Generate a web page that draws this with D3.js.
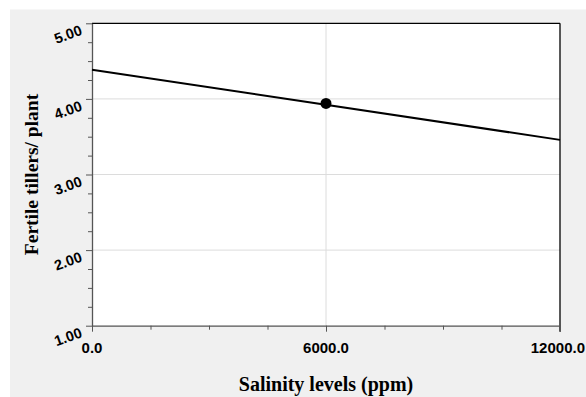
<!DOCTYPE html>
<html><head><meta charset="utf-8">
<script src="https://cdn.jsdelivr.net/npm/d3@7"></script>
<style>html,body{margin:0;padding:0;background:#fff;}svg{display:block;}</style>
</head><body>
<script>
const lineX = [0, 12000];
const lineY = [4.387, 3.458];
const pointX = [6000];
const pointY = [3.94];
const xTicks = [0, 6000, 12000];
const xTickLabels = ["0.0", "6000.0", "12000.0"];
const yTicks = [1, 2, 3, 4, 5];
const yTickLabels = ["1.00", "2.00", "3.00", "4.00", "5.00"];
const xTitle = "Salinity levels (ppm)";
const yTitle = "Fertile tillers/ plant";

const W = 586, H = 397;
const m = {left: 92, right: 560, top: 23.3, bottom: 325.7};
const svg = d3.select("body").append("svg").attr("width", W).attr("height", H);

svg.append("rect").attr("x", 10).attr("y", 9.5).attr("width", W - 10).attr("height", H - 9.5).attr("fill", "#f0f0f0");
svg.append("rect").attr("x", m.left).attr("y", m.top).attr("width", m.right - m.left).attr("height", m.bottom - m.top).attr("fill", "#fff");

const x = d3.scaleLinear().domain([0, 12000]).range([m.left, m.right]);
const y = d3.scaleLinear().domain([1, 5]).range([m.bottom, m.top]);

// grid
svg.append("g").selectAll("line").data(yTicks.filter(d => d > 1 && d < 5)).join("line")
  .attr("x1", m.left).attr("x2", m.right).attr("y1", d => y(d)).attr("y2", d => y(d))
  .attr("stroke", "#dcdcdc").attr("stroke-width", 1);
svg.append("g").selectAll("line").data(xTicks.filter(d => d > 0 && d < 12000)).join("line")
  .attr("y1", m.top).attr("y2", m.bottom).attr("x1", d => x(d)).attr("x2", d => x(d))
  .attr("stroke", "#dcdcdc").attr("stroke-width", 1);

// borders
svg.append("line").attr("x1", m.left).attr("x2", m.right).attr("y1", m.top).attr("y2", m.top).attr("stroke", "#000").attr("stroke-width", 1.3);
svg.append("line").attr("x1", m.right).attr("x2", m.right).attr("y1", m.top).attr("y2", m.bottom + 6).attr("stroke", "#000").attr("stroke-width", 1.3);

// y axis
const yAxis = d3.axisLeft(y).tickValues(d3.range(1, 5.001, 0.25)).tickSize(0).tickFormat("");
const gy = svg.append("g").attr("transform", `translate(${m.left},0)`).call(yAxis);
gy.select(".domain").attr("stroke", "#555").attr("stroke-width", 1.3);
gy.selectAll(".tick line").attr("x2", d => (Math.abs(d - Math.round(d)) < 1e-6 ? -6 : -4)).attr("stroke", "#555").attr("stroke-width", 1);
svg.append("g").selectAll("text").data(yTicks).join("text")
  .attr("transform", d => `translate(${m.left - 9},${y(d) + 11}) rotate(-20)`)
  .attr("text-anchor", "end").attr("font-family", "Liberation Sans, Arial, sans-serif")
  .attr("font-weight", "bold").attr("font-size", 14.5).attr("fill", "#000")
  .text((d, i) => yTickLabels[i]);

// x axis
const xAxis = d3.axisBottom(x).tickValues(d3.range(0, 12001, 1500)).tickSize(0).tickFormat("");
const gx = svg.append("g").attr("transform", `translate(0,${m.bottom})`).call(xAxis);
gx.select(".domain").attr("stroke", "#555").attr("stroke-width", 1.3);
gx.selectAll(".tick line").attr("y2", d => (d % 6000 === 0 ? 6 : 4)).attr("stroke", "#555").attr("stroke-width", 1);
svg.append("g").selectAll("text").data(xTicks).join("text")
  .attr("x", (d, i) => i === xTicks.length - 1 ? W - 1 : x(d)).attr("y", 353)
  .attr("text-anchor", (d, i) => i === xTicks.length - 1 ? "end" : "middle")
  .attr("font-family", "Liberation Sans, Arial, sans-serif").attr("font-weight", "bold").attr("font-size", 15).attr("fill", "#000")
  .text((d, i) => xTickLabels[i]);

// titles
svg.append("text").attr("x", (m.left + m.right) / 2).attr("y", 390.5).attr("text-anchor", "middle")
  .attr("font-family", "Liberation Serif, Times New Roman, serif").attr("font-weight", "bold").attr("font-size", 20).text(xTitle);
svg.append("text").attr("transform", `translate(38,${(m.top + m.bottom) / 2}) rotate(-90)`).attr("text-anchor", "middle")
  .attr("font-family", "Liberation Serif, Times New Roman, serif").attr("font-weight", "bold").attr("font-size", 19.5).text(yTitle);

// line
const lineData = lineX.map((v, i) => [v, lineY[i]]);
svg.append("path").datum(lineData).attr("fill", "none").attr("stroke", "#000").attr("stroke-width", 2)
  .attr("d", d3.line().x(d => x(d[0])).y(d => y(d[1])));

// point
svg.append("g").selectAll("circle").data(pointX.map((v, i) => [v, pointY[i]])).join("circle")
  .attr("cx", d => x(d[0])).attr("cy", d => y(d[1])).attr("r", 5.5).attr("fill", "#000");
</script>
</body></html>
